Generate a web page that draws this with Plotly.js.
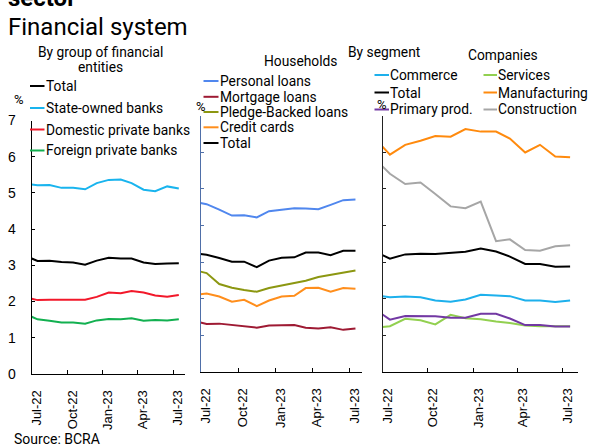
<!DOCTYPE html>
<html><head><meta charset="utf-8">
<script src="https://cdn.plot.ly/plotly-3.0.1.min.js"></script>
<style>html,body{margin:0;padding:0;background:#fff}#chart{width:590px;height:444px}</style>
</head><body><div id="chart"></div>
<script>
// ---------- DATA ----------
const dates = ['2022-07-01','2022-07-16','2022-08-16','2022-09-16','2022-10-16','2022-11-16','2022-12-16',
               '2023-01-16','2023-02-16','2023-03-16','2023-04-16','2023-05-16','2023-06-16','2023-07-16'];
const tickDates = ['2022-07-01','2022-10-01','2023-01-01','2023-04-01','2023-07-01'];
const tickLabels = ['Jul-22','Oct-22','Jan-23','Apr-23','Jul-23'];
const yTicks = [0,1,2,3,4,5,6,7];

// Panel 1: by group of financial entities
const entNames = ['Total','State-owned banks','Domestic private banks','Foreign private banks'];
const entTotal    = [3.19,3.12,3.13,3.09,3.08,3.02,3.13,3.21,3.19,3.19,3.08,3.04,3.05,3.06];
const entState    = [5.23,5.21,5.22,5.14,5.14,5.10,5.27,5.36,5.37,5.27,5.09,5.05,5.18,5.12];
const entDomestic = [2.08,2.04,2.05,2.05,2.06,2.05,2.13,2.25,2.23,2.29,2.25,2.17,2.13,2.18];
const entForeign  = [1.58,1.51,1.47,1.42,1.42,1.39,1.48,1.52,1.51,1.54,1.47,1.49,1.48,1.51];

// Panel 2: households
const hhNames = ['Personal loans','Mortgage loans','Pledge-Backed loans','Credit cards','Total'];
const hhPersonal = [4.61,4.58,4.43,4.27,4.28,4.22,4.39,4.43,4.47,4.46,4.44,4.56,4.69,4.71];
const hhMortgage = [1.35,1.31,1.32,1.28,1.26,1.21,1.27,1.27,1.28,1.21,1.19,1.22,1.15,1.19];
const hhPledge   = [2.74,2.70,2.40,2.30,2.24,2.19,2.29,2.36,2.42,2.49,2.59,2.65,2.72,2.77];
const hhCards    = [2.12,2.14,2.06,1.92,1.97,1.80,1.95,2.06,2.08,2.29,2.30,2.19,2.29,2.27];
const hhTotal    = [3.22,3.20,3.11,3.01,3.01,2.86,3.04,3.12,3.13,3.26,3.26,3.19,3.31,3.31];

// Panel 3: companies by segment
const coNames = ['Commerce','Services','Total','Manufacturing','Primary prod.','Construction'];
const coCommerce      = [2.07,2.04,2.06,2.04,1.95,1.92,1.98,2.11,2.09,2.07,1.95,1.95,1.91,1.95];
const coServices      = [1.23,1.25,1.45,1.41,1.30,1.56,1.47,1.44,1.38,1.34,1.27,1.25,1.25,1.25];
const coTotal         = [3.19,3.09,3.21,3.23,3.22,3.25,3.28,3.37,3.29,3.15,2.95,2.95,2.87,2.88];
const coManufacturing = [6.15,5.93,6.20,6.31,6.44,6.42,6.63,6.56,6.56,6.37,5.99,6.20,5.88,5.86];
const coPrimary       = [1.57,1.43,1.53,1.52,1.52,1.48,1.48,1.59,1.59,1.46,1.28,1.28,1.24,1.24];
const coConstruction  = [5.61,5.41,5.13,5.17,4.86,4.52,4.47,4.65,3.57,3.62,3.33,3.31,3.43,3.46];

// ---------- STYLE ----------
const entColors = ['#000000','#19B4EE','#F2182A','#12B050'];
const hhColors  = ['#5087EE','#9E1A33','#8C9711','#FF8E1C','#000000'];
const coColors  = ['#1DB0EC','#92D050','#000000','#FF8A0D','#7238A3','#A6A6A6'];

const W = 590, H = 444;
const px = x => x / W;
const py = y => 1 - y / H;

const entSeries = [entTotal, entState, entDomestic, entForeign];
const hhSeries  = [hhPersonal, hhMortgage, hhPledge, hhCards, hhTotal];
const coSeries  = [coCommerce, coServices, coTotal, coManufacturing, coPrimary, coConstruction];

const traces = [];
function addTraces(names, series, colors, xa, ya, order) {
  (order || names.map((_, i) => i)).forEach(i => {
    traces.push({type:'scatter', mode:'lines', x: dates, y: series[i], name: names[i],
      xaxis: xa, yaxis: ya, line:{color: colors[i], width: 2}, showlegend:false, hoverinfo:'skip'});
  });
}
addTraces(entNames, entSeries, entColors, 'x', 'y', [3,2,0,1]);
addTraces(hhNames, hhSeries, hhColors, 'x2', 'y2', [1,3,2,4,0]);
addTraces(coNames, coSeries, coColors, 'x3', 'y3', [1,4,0,2,5,3]);

const tickFont = {family:'Liberation Sans, Arial, sans-serif', size:13, color:'#000'};
function xAxis(dom, anchor, color) {
  return {domain: dom, anchor: anchor, type:'date', range:['2022-07-01','2023-08-01'],
    tickmode:'array', tickvals: tickDates, ticktext: tickLabels, tickangle:-90,
    ticks:'inside', ticklen:4, tickcolor: color, tickwidth:1, showline:true, linecolor: color, linewidth:1,
    showgrid:false, zeroline:false, tickfont: tickFont, ticklabelstandoff: 10, ticklabelshift: 5,
    fixedrange:true};
}
function yAxis(dom, anchor, color, labels) {
  return {domain: dom, anchor: anchor, range:[0,7], tickmode:'array', tickvals: yTicks,
    ticks:'inside', ticklen:3, tickcolor: color, tickwidth:1, showline:true, linecolor: color, linewidth:1,
    showgrid:false, zeroline:false, showticklabels: labels,
    tickfont:{family:'Liberation Sans, Arial, sans-serif', size:14, color:'#000'},
    ticklabelstandoff: 12, fixedrange:true};
}

const annFont = (size, extra) => Object.assign({family:'Roboto, sans-serif', size: size, color:'#000'}, extra || {});
const annotations = [];
const shapes = [];
function text(t, x, y, size, anchor, extra) {
  annotations.push({text: t, x: px(x), y: py(y), xref:'paper', yref:'paper', xanchor: anchor || 'left',
    yanchor:'middle', showarrow:false, font: annFont(size, extra), borderpad:0});
}
function legendItem(label, color, x0, x1, y) {
  shapes.push({type:'line', xref:'paper', yref:'paper', x0: px(x0), x1: px(x1), y0: py(y), y1: py(y),
    line:{color: color, width: 2}});
  text(label, x1, y, 13.8);
}

// titles
text('<b>sector</b>', 7, -2.5, 24);
text('Financial system', 7, 26.5, 24);
text('By group of financial', 100, 52, 13.8, 'center');
text('entities', 100, 67, 13.8, 'center');
text('Households', 300, 60.5, 13.8, 'center');
text('By segment', 384, 52.5, 13.8, 'center');
text('Companies', 503, 55, 13.8, 'center');
text('%', 18.5, 99.5, 13, 'center');
text('%', 201, 106.5, 13, 'center');
text('%', 382, 104, 13, 'center');
text('Source: BCRA', 13, 438.5, 14);

// legends
const entRows = [86, 108, 129.5, 150.5];
entNames.forEach((n, i) => legendItem(n, entColors[i], 30, 44.5, entRows[i]));
const hhRows = [81, 96.8, 112, 127.3, 143];
hhNames.forEach((n, i) => legendItem(n, hhColors[i], 203.5, 218.5, hhRows[i]));
const coRows = [75, 92.5, 109.5];
coNames.forEach((n, i) => {
  const col = i % 2, row = Math.floor(i / 2);
  if (col === 0) legendItem(n, coColors[i], 374.5, 389, coRows[row]);
  else legendItem(n, coColors[i], 483.5, 497, coRows[row]);
});

const layout = {
  width: W, height: H, margin:{l:0, r:0, t:0, b:0}, paper_bgcolor:'#fff', plot_bgcolor:'#fff',
  showlegend:false,
  xaxis:  xAxis([px(31.7), px(185)], 'y', '#000'),
  yaxis:  yAxis([py(374), py(120.5)], 'x', '#000', true),
  xaxis2: xAxis([px(200.5), px(362)], 'y2', '#000'),
  yaxis2: yAxis([py(372), py(115.5)], 'x2', '#4F6FA8', false),
  xaxis3: xAxis([px(382.5), px(578)], 'y3', '#000'),
  yaxis3: yAxis([py(372), py(115.5)], 'x3', '#222', false),
  annotations: annotations, shapes: shapes
};
Plotly.newPlot('chart', traces, layout, {staticPlot:true, displayModeBar:false});
</script>
</body></html>
